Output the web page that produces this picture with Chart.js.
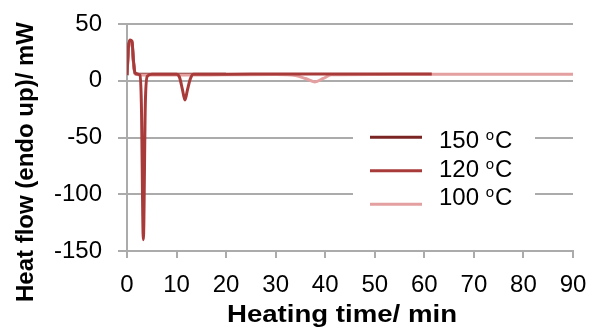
<!DOCTYPE html>
<html>
<head>
<meta charset="utf-8">
<script src="https://cdn.jsdelivr.net/npm/chart.js@4"></script>
<style>
  html, body { margin: 0; padding: 0; background: #ffffff; }
  #wrap { width: 592px; height: 329px; }
</style>
</head>
<body>
<div id="wrap"><canvas id="c" width="592" height="329"></canvas></div>
<script>
// ---- data ----
const seriesLabels = ['150', '120', '100'];
const seriesColors = ['#7b2424', '#a83a3a', '#e4a0a0'];

const time150 = [0, 0.3, 0.6, 1.0, 1.3, 1.6, 2.0, 2.6, 5, 10, 15, 20];
const heat150 = [5, 29, 35, 34, 17, 7, 6, 5.8, 5.8, 5.8, 5.8, 5.8];

const time120 = [0, 0.3, 0.6, 1.0, 1.3, 1.6, 2.0, 2.6, 2.9, 3.3, 3.7, 4.1, 5, 10, 10.6, 11.2, 11.7, 12.2, 12.8, 13.4, 20, 30, 40, 50, 61.5];
const heat120 = [5, 30, 36, 35, 18, 7, 6, 5, -20, -140, -20, 4, 5.8, 5.8, 3, -8, -17, -8, 2, 5.8, 5.8, 6, 6, 6, 6];

const time100 = [0, 0.3, 0.6, 1.0, 1.3, 1.6, 2.0, 3, 10, 20, 30, 34, 36, 37.9, 39.6, 41.2, 50, 60, 70, 80, 90];
const heat100 = [5, 28, 34, 33, 16, 6, 5.5, 5, 5, 5.2, 5.4, 4.5, 2, -1, 2, 5.2, 5.6, 5.8, 5.8, 5.8, 5.8];

const xTicks = [0, 10, 20, 30, 40, 50, 60, 70, 80, 90];
const yTicks = [-150, -100, -50, 0, 50];

const xTitle = 'Heating time/ min';
const yTitle = 'Heat flow (endo up)/ mW';
// ----------------------------------------

const toPts = (t, v) => t.map((x, i) => ({ x: x, y: v[i] }));

const GRID = '#ababab';
const FONT = "'Liberation Sans', Arial, sans-serif";

const titlesAndLegend = {
  id: 'titlesAndLegend',
  afterDraw(chart) {
    const ctx = chart.ctx;
    ctx.save();
    // legend box (covers gridlines)
    ctx.fillStyle = '#ffffff';
    ctx.fillRect(353, 119, 182, 103);
    const lineRows = [137.3, 170.7, 204.3];
    const textBase = [148, 177, 205];
    chart.data.datasets.forEach((ds, i) => {
      ctx.strokeStyle = ds.borderColor;
      ctx.lineWidth = 3;
      ctx.beginPath();
      ctx.moveTo(370, lineRows[i]);
      ctx.lineTo(422, lineRows[i]);
      ctx.stroke();
      ctx.fillStyle = '#000';
      ctx.textAlign = 'left';
      ctx.textBaseline = 'alphabetic';
      ctx.font = '24px ' + FONT;
      const main = seriesLabels[i] + ' ';
      let x = 439;
      ctx.fillText(main, x, textBase[i]);
      x += ctx.measureText(main).width;
      ctx.font = '15px ' + FONT;
      ctx.fillText('o', x, textBase[i] - 8);
      x += ctx.measureText('o').width + 1;
      ctx.font = '24px ' + FONT;
      ctx.fillText('C', x, textBase[i]);
    });
    // y title
    ctx.fillStyle = '#000';
    ctx.font = 'bold 24px ' + FONT;
    ctx.textAlign = 'center';
    ctx.textBaseline = 'middle';
    ctx.save();
    ctx.translate(26, 162);
    ctx.rotate(-Math.PI / 2);
    ctx.fillText(yTitle, 0, 0);
    ctx.restore();
    // x title
    ctx.save();
    ctx.textBaseline = 'alphabetic';
    ctx.scale(1.15, 1);
    ctx.fillText(xTitle, 342 / 1.15, 322);
    ctx.restore();
    ctx.restore();
  }
};

function noPad(s) {
  s.paddingTop = 0; s.paddingBottom = 0; s.paddingLeft = 0; s.paddingRight = 0;
}

new Chart(document.getElementById('c'), {
  type: 'line',
  data: {
    datasets: [
      { label: '150 oC', data: toPts(time150, heat150), borderColor: seriesColors[0], order: 2 },
      { label: '120 oC', data: toPts(time120, heat120), borderColor: seriesColors[1], order: 0 },
      { label: '100 oC', data: toPts(time100, heat100), borderColor: seriesColors[2], order: 1 }
    ]
  },
  options: {
    responsive: false,
    animation: false,
    devicePixelRatio: 1,
    layout: { padding: { left: 0, right: 19, top: 24, bottom: 0 } },
    elements: {
      line: { borderWidth: 3, cubicInterpolationMode: 'monotone', fill: false },
      point: { radius: 0, hoverRadius: 0 }
    },
    plugins: { legend: { display: false }, tooltip: { enabled: false } },
    scales: {
      x: {
        type: 'linear',
        min: 0, max: 90,
        afterFit(s) { s.height = 78; noPad(s); },
        afterBuildTicks(s) { s.ticks = xTicks.map(v => ({ value: v })); },
        ticks: { font: { family: FONT, size: 24 }, color: '#000', padding: 13, maxRotation: 0 },
        grid: { drawOnChartArea: false, drawTicks: true, tickLength: 7, color: GRID, lineWidth: 2 },
        border: { display: true, color: GRID, width: 2 }
      },
      y: {
        type: 'linear',
        min: -150, max: 50,
        afterFit(s) { s.width = 127; noPad(s); },
        afterBuildTicks(s) { s.ticks = yTicks.map(v => ({ value: v })); },
        ticks: { font: { family: FONT, size: 24 }, color: '#000', padding: 16 },
        grid: { drawOnChartArea: true, drawTicks: true, tickLength: 9, color: GRID, lineWidth: 2 },
        border: { display: true, color: GRID, width: 2 }
      }
    }
  },
  plugins: [titlesAndLegend]
});
</script>
</body>
</html>
